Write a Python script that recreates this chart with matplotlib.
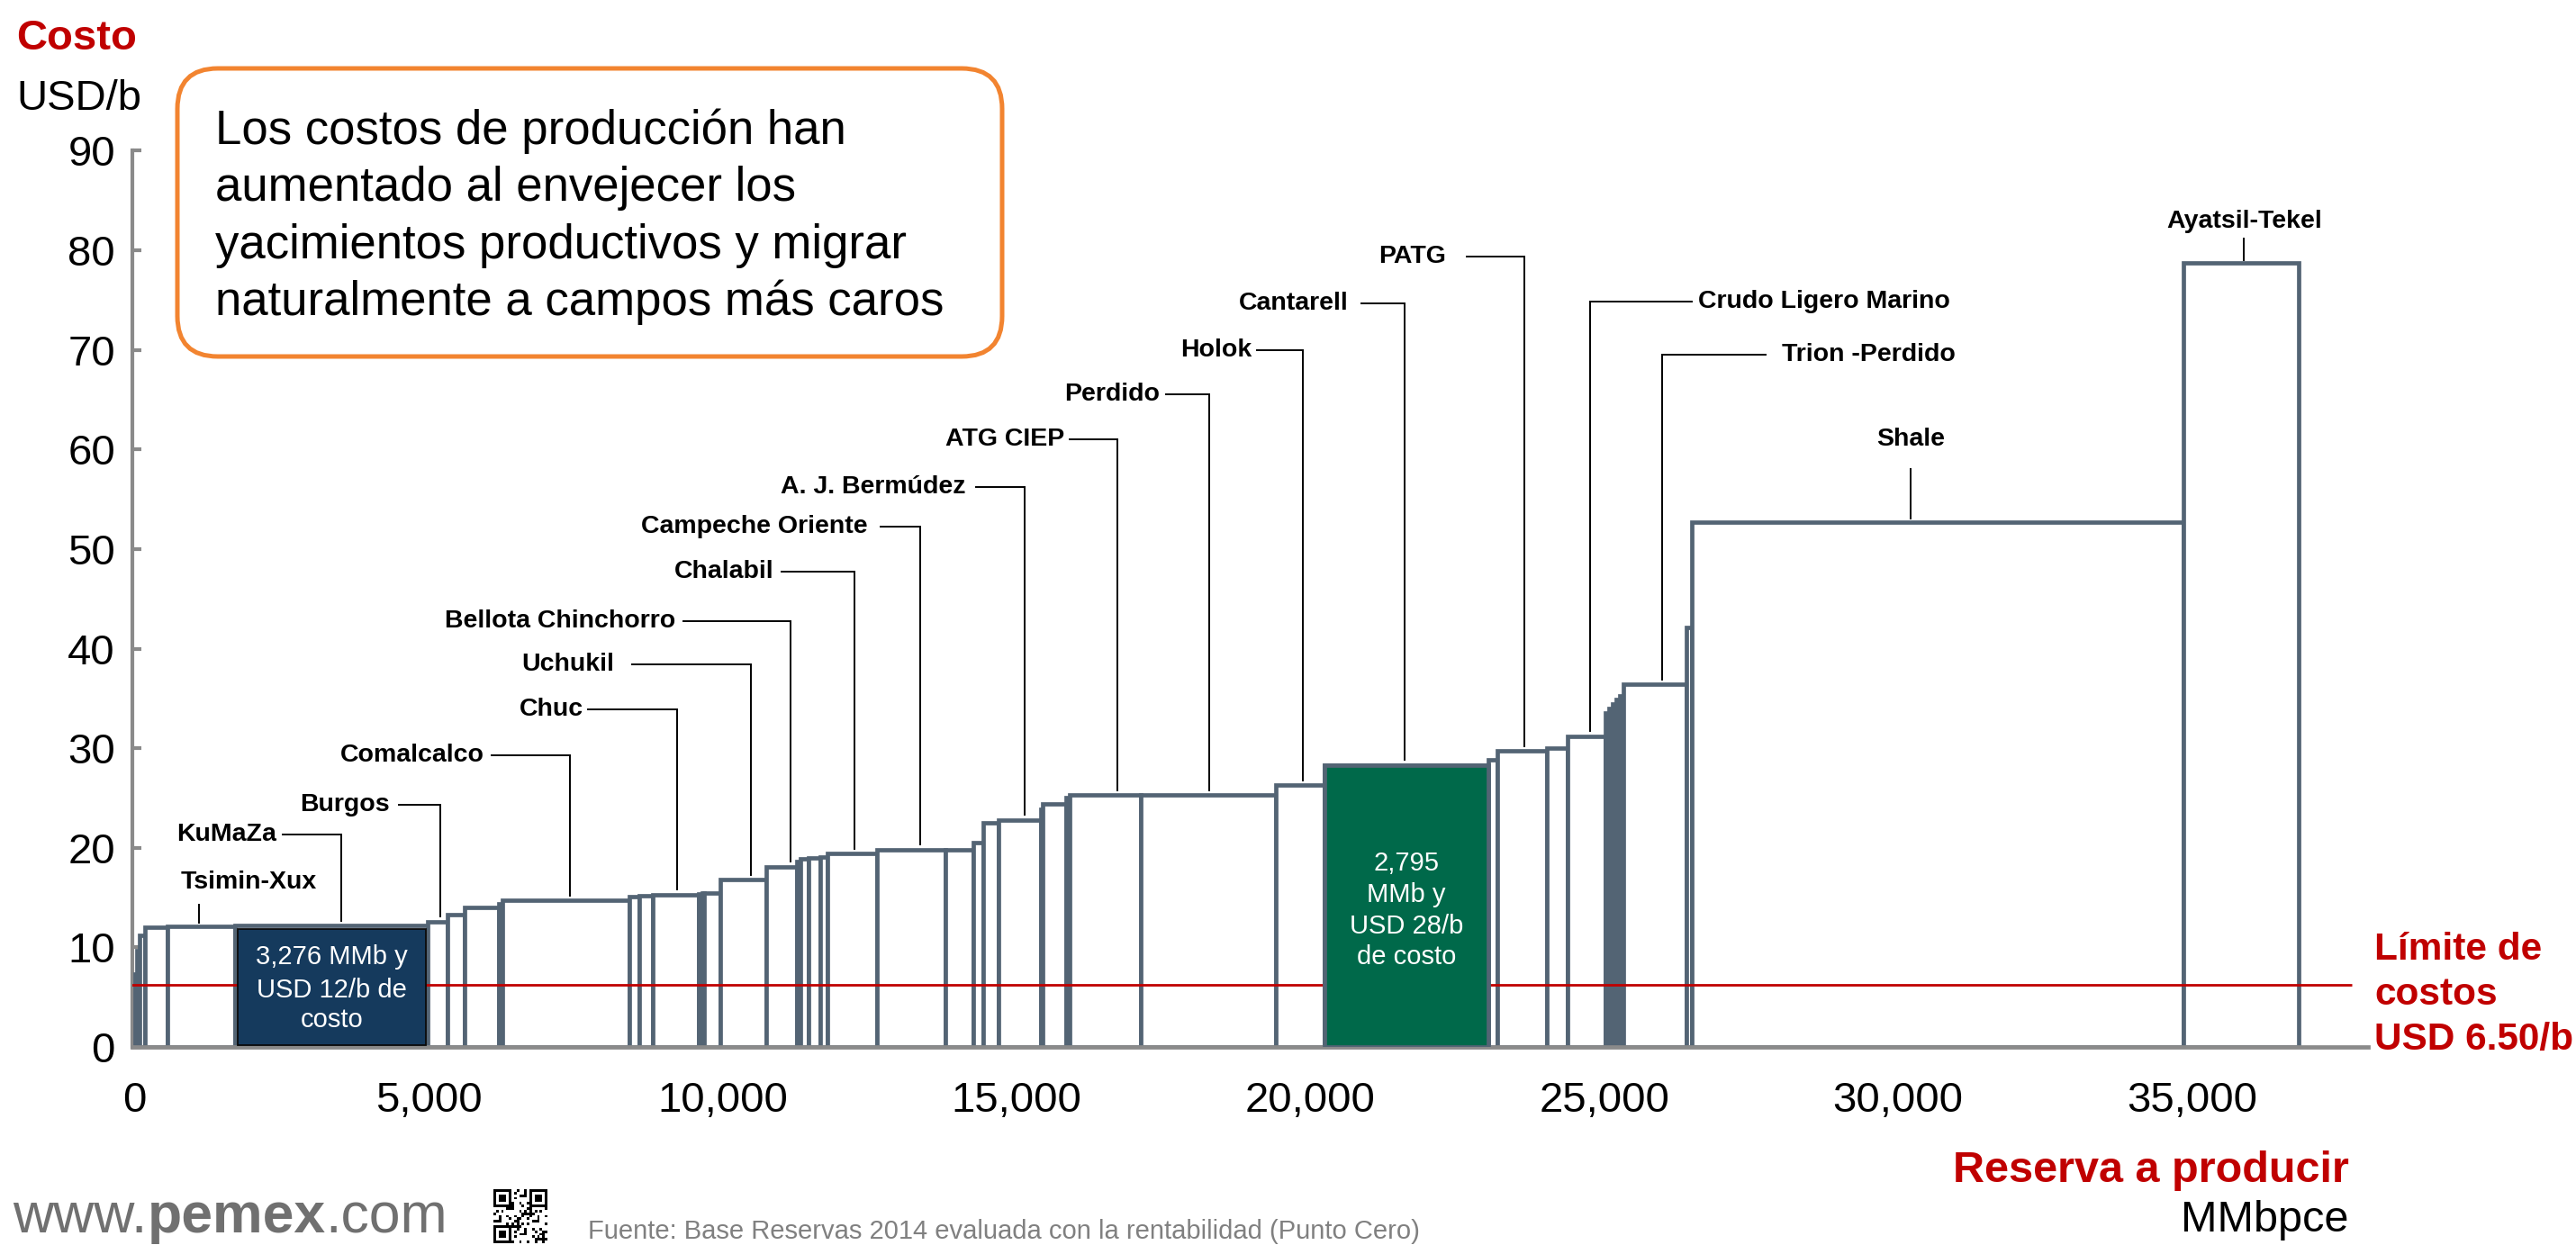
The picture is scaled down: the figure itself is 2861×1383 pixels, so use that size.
import numpy as np
import matplotlib
matplotlib.use("Agg")
import matplotlib.pyplot as plt
from matplotlib.patches import Rectangle, FancyBboxPatch

plt.rcParams['font.family'] = ['Liberation Sans', 'DejaVu Sans']

# ---------------- data ----------------
reserve_mmb = [40, 40, 100, 380, 1151, 3276, 333, 300, 570, 60, 2160, 170, 230, 790, 50, 40, 270,
               780, 520, 60, 140, 210, 110, 850, 1160, 480, 160, 260, 720, 40, 390, 60, 1210, 2300,
               825, 2795, 160, 830, 360, 640, 60, 60, 60, 60, 66, 1074, 87, 8363, 1960]
cost_usd = [7.3, 9.7, 11.2, 12.0, 12.1, 12.2, 12.6, 13.3, 14.0, 14.4, 14.7, 15.1, 15.2, 15.3, 15.4,
            15.45, 15.5, 16.8, 18.1, 18.6, 18.9, 19.0, 19.1, 19.4, 19.8, 19.8, 20.5, 22.5, 22.8, 23.9,
            24.4, 25.0, 25.3, 25.3, 26.3, 28.3, 28.8, 29.7, 30.0, 31.2, 33.5, 34.0, 34.4, 34.9, 35.3,
            36.4, 42.1, 52.7, 78.7]
cost_limit = 6.2          # drawn position of the "USD 6.50/b" line
highlight_blue = 5        # KuMaZa block
highlight_green = 35      # Cantarell block
blue_text = ["3,276 MMb y", "USD 12/b de", "costo"]
green_text = ["2,795", "MMb y", "USD 28/b", "de costo"]

x_ticks = [0, 5000, 10000, 15000, 20000, 25000, 30000, 35000]
x_ticklabels = ["0", "5,000", "10,000", "15,000", "20,000", "25,000", "30,000", "35,000"]
y_ticks = [0, 10, 20, 30, 40, 50, 60, 70, 80, 90]

# labels whose text sits on the left of an elbow leader
left_names = ["KuMaZa", "Burgos", "Comalcalco", "Chuc", "Uchukil", "Bellota Chinchorro", "Chalabil",
              "Campeche Oriente", "A. J. Bermúdez", "ATG CIEP", "Perdido", "Holok", "Cantarell", "PATG"]
left_leader_x = [3521, 5198, 7406, 9223, 10481, 11151, 12242, 13360, 15148, 16713, 18278, 19871, 21604, 23644]
# layout of those labels
left_text_x = [2404, 4332, 5953, 7630, 8161, 9195, 10872, 12465, 14142, 15819, 17440, 19005, 20654, 22303]
left_line_x0 = [2515, 4500, 6065, 7714, 8468, 9335, 11012, 12689, 14310, 15903, 17552, 19089, 20878, 22666]
left_label_y = [21.3, 24.3, 29.3, 33.9, 38.4, 42.8, 47.7, 52.3, 56.2, 61.0, 65.5, 70.0, 74.7, 79.4]

right_names = ["Crudo Ligero Marino", "Trion -Perdido"]
right_leader_x = [24762, 25992]
right_text_x = [26607, 28032]
right_line_x1 = [26495, 27753]
right_label_y = [74.9, 69.5]

top_names = ["Tsimin-Xux", "Shale", "Ayatsil-Tekel"]
top_leader_x = [1100, 30213, 35889]
top_text_x = [1940, 30213, 35889]
top_label_y = [16.5, 61.0, 82.9]
top_line_y = [14.3, 58.0, 81.2]

box_lines = ["Los costos de producción han", "aumentado al envejecer los",
             "yacimientos productivos y migrar", "naturalmente a campos más caros"]

# ---------------- styles ----------------
EDGE = '#536474'
AXGRAY = '#8A8A8A'
RED = '#C00000'
NAVY = '#153A5D'
GREEN = '#00694A'
ORANGE = '#F28430'
FOOTGRAY = '#707070'
W, H = 2861, 1383
BAR_LW = 3.4

fig = plt.figure(figsize=(W / 100, H / 100), dpi=100)
ax = fig.add_axes([0.05126, 0.15907, 0.86807, 0.71982])

widths = np.array(reserve_mmb, dtype=float)
costs = np.array(cost_usd, dtype=float)
edges = np.concatenate([[0.0], np.cumsum(widths)])
lefts = edges[:-1]

ax.bar(lefts, costs, width=widths, align='edge', facecolor='white', edgecolor=EDGE,
       linewidth=BAR_LW, zorder=2)

ax.hlines(cost_limit, -60, 37720, color=RED, lw=2.0, zorder=3)

# green highlighted block
g = highlight_green
ax.bar([lefts[g]], [costs[g]], width=[widths[g]], align='edge', facecolor=GREEN, edgecolor=EDGE,
       linewidth=BAR_LW, zorder=4)
gx = lefts[g] + widths[g] / 2
for s, yb in zip(green_text, [17.7, 14.6, 11.4, 8.3]):
    ax.text(gx, yb, s, color='white', fontsize=21, ha='center', va='baseline', zorder=6)

# navy highlighted block
b = highlight_blue
ax.add_patch(Rectangle((lefts[b] + 40, 0.15), widths[b] - 80, costs[b] - 0.5, facecolor=NAVY,
                       edgecolor='#0A0A0A', lw=1.3, zorder=4))
bx = lefts[b] + widths[b] / 2
for s, yb in zip(blue_text, [8.3, 5.0, 2.0]):
    ax.text(bx, yb, s, color='white', fontsize=21, ha='center', va='baseline', zorder=6)


def top_at(x):
    i = int(np.searchsorted(edges, x, side='right') - 1)
    i = min(max(i, 0), len(costs) - 1)
    return costs[i]


lab_kw = dict(fontsize=20.5, fontweight='bold', color='black', zorder=6, clip_on=False)
line_kw = dict(color='black', lw=1.4, zorder=5, clip_on=False, solid_joinstyle='miter')

for name, tx, lx0, lx, ly in zip(left_names, left_text_x, left_line_x0, left_leader_x, left_label_y):
    ax.text(tx, ly, name, ha='right', va='center', **lab_kw)
    ax.plot([lx0, lx, lx], [ly, ly, top_at(lx) + 0.5], **line_kw)

for name, tx, lx1, lx, ly in zip(right_names, right_text_x, right_line_x1, right_leader_x, right_label_y):
    ax.text(tx, ly, name, ha='left', va='center', **lab_kw)
    ax.plot([lx1, lx, lx], [ly, ly, top_at(lx) + 0.5], **line_kw)

for name, tx, lx, ly, lt in zip(top_names, top_text_x, top_leader_x, top_label_y, top_line_y):
    ax.text(tx, ly, name, ha='center', va='center', **lab_kw)
    ax.plot([lx, lx], [lt, top_at(lx) + 0.35], **line_kw)

# axes styling
ax.set_xlim(-45, 38000)
ax.set_ylim(0, 90)
for sp in ['top', 'right']:
    ax.spines[sp].set_visible(False)
ax.spines['left'].set_color(AXGRAY)
ax.spines['left'].set_linewidth(3.0)
ax.spines['bottom'].set_color(AXGRAY)
ax.spines['bottom'].set_linewidth(3.4)
ax.spines['left'].set_zorder(1)
ax.spines['bottom'].set_zorder(3.5)
ax.set_xticks(x_ticks)
ax.set_xticklabels(x_ticklabels)
ax.set_yticks(y_ticks)
ax.tick_params(axis='x', length=0, pad=27, labelsize=34, labelcolor='black')
ax.tick_params(axis='y', direction='in', length=7, width=3, color=AXGRAY, pad=13.5,
               labelsize=34, labelcolor='black')
ax.patch.set_alpha(0)

# figure texts
fig.text(18 / W, 1 - 55 / H, "Costo", fontsize=34, fontweight='bold', color=RED, va='baseline')
fig.text(18 / W, 1 - 122 / H, "USD/b", fontsize=34, color='black', va='baseline')

for s, yb in zip(["Límite de", "costos", "USD 6.50/b"], [1066, 1116, 1166]):
    fig.text(2637 / W, 1 - yb / H, s, fontsize=30.5, fontweight='bold', color=RED, va='baseline')

fig.text(2609 / W, 1 - 1313 / H, "Reserva a producir", fontsize=35, fontweight='bold', color=RED,
         ha='right', va='baseline')
fig.text(2609 / W, 1 - 1368 / H, "MMbpce", fontsize=35, color='black', ha='right', va='baseline')

# orange callout box
box = FancyBboxPatch((197 / W, 1 - 396 / H), (1113 - 197) / W, (396 - 76) / H,
                     boxstyle='round,pad=0,rounding_size=0.0157', mutation_aspect=W / H,
                     transform=fig.transFigure, facecolor='white', edgecolor=ORANGE, lw=3.6)
fig.add_artist(box)
for s, yb in zip(box_lines, [160, 223, 287, 350]):
    fig.text(239 / W, 1 - yb / H, s, fontsize=38, color='black', va='baseline')

# footer
renderer = fig.canvas.get_renderer()
xx = 14 / W
for s, wgt in [("www.", "normal"), ("pemex", "bold"), (".com", "normal")]:
    t = fig.text(xx, 1 - 1369 / H, s, fontsize=45, fontweight=wgt, color=FOOTGRAY, va='baseline')
    xx += t.get_window_extent(renderer).width / W

qr_ax = fig.add_axes([548 / W, 1 - 1381 / H, 60 / W, 60 / H])
n = 21
pat = np.zeros((n, n))
for i in range(n):
    for j in range(n):
        pat[i, j] = 1 if ((i * 7 + j * 13 + (i * j) % 5) % 3 == 0) else 0
for (r0, c0) in [(0, 0), (0, n - 7), (n - 7, 0)]:
    pat[r0:r0 + 7, c0:c0 + 7] = 1
    pat[r0 + 1:r0 + 6, c0 + 1:c0 + 6] = 0
    pat[r0 + 2:r0 + 5, c0 + 2:c0 + 5] = 1
qr_ax.imshow(1 - pat, cmap='gray', interpolation='nearest', vmin=0, vmax=1)
qr_ax.set_axis_off()

fig.text(653 / W, 1 - 1376 / H, "Fuente: Base Reservas 2014 evaluada con la rentabilidad (Punto Cero)",
         fontsize=21, color='#808080', va='baseline')

fig.savefig("out.png", dpi=100)
